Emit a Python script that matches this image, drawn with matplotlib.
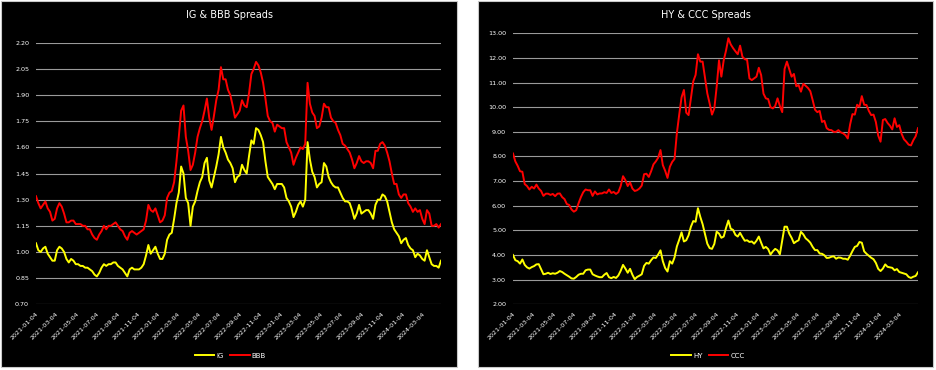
import numpy as np
import pandas as pd
import matplotlib
matplotlib.use("Agg")
import matplotlib.pyplot as plt
from matplotlib.patches import Rectangle

# weekly readings, 2021-01-04 .. 2024-04-29
dates = pd.date_range("2021-01-04", periods=174, freq="7D")

ig = [1.05, 1.01, 1.00, 1.02, 1.03, 0.99, 0.97, 0.95, 0.95, 1.01,
      1.03, 1.02, 1.00, 0.96, 0.94, 0.96, 0.95, 0.93, 0.93, 0.92,
      0.92, 0.91, 0.91, 0.90, 0.89, 0.87, 0.86, 0.88, 0.91, 0.93,
      0.92, 0.93, 0.93, 0.94, 0.94, 0.92, 0.91, 0.90, 0.88, 0.86,
      0.90, 0.91, 0.90, 0.90, 0.90, 0.91, 0.93, 0.98, 1.04, 0.99,
      1.01, 1.03, 0.99, 0.96, 0.96, 0.99, 1.07, 1.10, 1.11, 1.19,
      1.28, 1.34, 1.49, 1.45, 1.31, 1.28, 1.15, 1.26, 1.29, 1.35,
      1.40, 1.43, 1.51, 1.54, 1.41, 1.37, 1.43, 1.49, 1.56, 1.66,
      1.60, 1.57, 1.53, 1.51, 1.48, 1.40, 1.43, 1.44, 1.50, 1.47,
      1.45, 1.55, 1.64, 1.62, 1.71, 1.70, 1.67, 1.63, 1.52, 1.43,
      1.41, 1.39, 1.36, 1.39, 1.39, 1.39, 1.37, 1.31, 1.29, 1.26,
      1.20, 1.23, 1.27, 1.29, 1.26, 1.30, 1.63, 1.53, 1.46, 1.43,
      1.37, 1.39, 1.40, 1.51, 1.49, 1.43, 1.40, 1.38, 1.37, 1.37,
      1.34, 1.31, 1.29, 1.29, 1.28, 1.24, 1.19, 1.22, 1.27, 1.22,
      1.23, 1.24, 1.24, 1.22, 1.19, 1.27, 1.30, 1.30, 1.33, 1.32,
      1.29, 1.23, 1.17, 1.13, 1.11, 1.09, 1.05, 1.07, 1.08, 1.04,
      1.02, 1.01, 0.97, 0.99, 0.98, 0.96, 0.95, 1.01, 0.97, 0.93,
      0.92, 0.92, 0.91, 0.95]

bbb = [1.32, 1.28, 1.25, 1.27, 1.29, 1.25, 1.23, 1.18, 1.19, 1.25,
       1.28, 1.26, 1.22, 1.17, 1.17, 1.18, 1.18, 1.16, 1.16, 1.16,
       1.15, 1.15, 1.13, 1.13, 1.10, 1.08, 1.07, 1.10, 1.12, 1.15,
       1.13, 1.15, 1.15, 1.16, 1.17, 1.15, 1.13, 1.12, 1.09, 1.07,
       1.11, 1.12, 1.11, 1.10, 1.11, 1.12, 1.13, 1.18, 1.27, 1.24,
       1.23, 1.25, 1.21, 1.17, 1.18, 1.21, 1.31, 1.34, 1.35, 1.40,
       1.52, 1.66, 1.81, 1.84, 1.66, 1.58, 1.47, 1.50, 1.57, 1.66,
       1.71, 1.75, 1.81, 1.88, 1.77, 1.70, 1.78, 1.87, 1.93, 2.06,
       1.99, 1.99, 1.93, 1.90, 1.84, 1.77, 1.79, 1.81, 1.87, 1.84,
       1.83, 1.91, 2.02, 2.05, 2.09, 2.07, 2.03, 1.97, 1.88, 1.78,
       1.75, 1.74, 1.69, 1.73, 1.72, 1.71, 1.71, 1.63, 1.60, 1.57,
       1.50, 1.54, 1.57, 1.60, 1.59, 1.62, 1.97, 1.85, 1.80, 1.78,
       1.71, 1.72, 1.77, 1.85, 1.83, 1.83, 1.77, 1.75, 1.74, 1.70,
       1.67, 1.62, 1.61, 1.59, 1.57, 1.53, 1.48, 1.51, 1.55, 1.52,
       1.51, 1.52, 1.52, 1.51, 1.48, 1.58, 1.58, 1.62, 1.63, 1.61,
       1.57, 1.52, 1.45, 1.39, 1.39, 1.33, 1.31, 1.33, 1.33, 1.28,
       1.26, 1.23, 1.25, 1.23, 1.24, 1.19, 1.16, 1.24, 1.22, 1.15,
       1.15, 1.16, 1.14, 1.16]

hy = [4.00, 3.79, 3.75, 3.65, 3.82, 3.60, 3.50, 3.45, 3.51, 3.55,
      3.62, 3.63, 3.42, 3.22, 3.24, 3.28, 3.23, 3.26, 3.24, 3.28,
      3.35, 3.31, 3.24, 3.18, 3.12, 3.05, 3.04, 3.11, 3.20, 3.24,
      3.24, 3.38, 3.41, 3.41, 3.22, 3.17, 3.13, 3.10, 3.10, 3.20,
      3.27, 3.10, 3.06, 3.11, 3.07, 3.17, 3.36, 3.60, 3.45, 3.28,
      3.44, 3.20, 3.02, 3.11, 3.16, 3.22, 3.56, 3.68, 3.65, 3.79,
      3.90, 3.88, 4.02, 4.19, 3.75, 3.47, 3.33, 3.75, 3.65, 3.90,
      4.35, 4.62, 4.92, 4.55, 4.60, 4.80, 5.15, 5.38, 5.35, 5.90,
      5.55, 5.25, 4.85, 4.46, 4.28, 4.25, 4.45, 4.95, 4.87, 4.70,
      4.75, 5.10, 5.40, 5.07, 5.02, 4.82, 4.75, 4.90, 4.73, 4.58,
      4.60, 4.53, 4.55, 4.46, 4.58, 4.75, 4.50, 4.27, 4.33, 4.24,
      4.02, 4.15, 4.25, 4.19, 4.03, 4.60, 5.15, 5.15, 4.87, 4.70,
      4.48, 4.55, 4.60, 4.94, 4.84, 4.68, 4.60, 4.50, 4.33, 4.20,
      4.20, 4.06, 4.05, 3.99, 3.88, 3.89, 3.93, 3.95, 3.85, 3.90,
      3.89, 3.85, 3.85, 3.81, 3.97, 4.16, 4.33, 4.37, 4.53, 4.50,
      4.15, 4.05, 3.97, 3.89, 3.83, 3.68, 3.44, 3.35, 3.45, 3.62,
      3.52, 3.50, 3.48, 3.38, 3.43, 3.31, 3.28, 3.25, 3.22, 3.11,
      3.07, 3.12, 3.15, 3.30]

ccc = [8.12, 7.80, 7.62, 7.40, 7.38, 6.88, 6.80, 6.66, 6.77, 6.70,
       6.86, 6.70, 6.60, 6.40, 6.49, 6.49, 6.44, 6.48, 6.39, 6.49,
       6.50, 6.35, 6.27, 6.07, 6.03, 5.85, 5.76, 5.82, 6.10, 6.35,
       6.55, 6.66, 6.63, 6.63, 6.40, 6.58, 6.46, 6.50, 6.50, 6.55,
       6.52, 6.66, 6.52, 6.56, 6.48, 6.55, 6.80, 7.20, 7.04, 6.80,
       6.95, 6.70, 6.60, 6.63, 6.70, 6.82, 7.28, 7.30, 7.17, 7.40,
       7.68, 7.80, 7.95, 8.26, 7.65, 7.42, 7.13, 7.58, 7.78, 7.90,
       8.95, 9.70, 10.40, 10.70, 9.78, 9.68, 10.35, 11.05, 11.31, 12.15,
       11.85, 11.85, 11.20, 10.56, 10.15, 9.70, 9.95, 10.83, 11.90, 11.24,
       11.90, 12.30, 12.80, 12.55, 12.40, 12.27, 12.15, 12.50, 12.05, 11.95,
       11.92, 11.17, 11.10, 11.17, 11.24, 11.60, 11.30, 10.55, 10.36, 10.33,
       10.00, 9.95, 10.05, 10.36, 10.05, 9.80, 11.55, 11.85, 11.55, 11.24,
       11.35, 10.85, 10.90, 10.63, 10.95, 10.87, 10.78, 10.65, 10.29, 9.90,
       9.80, 9.85, 9.40, 9.45, 9.15, 9.08, 9.07, 9.00, 9.00, 9.07,
       8.98, 8.94, 8.87, 8.73, 9.30, 9.72, 9.70, 10.10, 10.02, 10.45,
       10.10, 10.09, 9.85, 9.68, 9.70, 9.40, 8.85, 8.60, 9.48, 9.52,
       9.36, 9.25, 9.10, 9.55, 9.20, 9.27, 8.92, 8.70, 8.60, 8.48,
       8.45, 8.66, 8.82, 9.15]

tick_dates = pd.date_range("2021-01-04", "2024-03-04", freq=pd.DateOffset(months=2))
tick_labels = [d.strftime("%Y-%m-%d") for d in tick_dates]

W, H = 936, 370
fig = plt.figure(figsize=(W / 100, H / 100), dpi=100, facecolor="white")


def px(x0, y0, x1, y1):
    # pixel box (top-left origin) -> figure fraction rect
    return [x0 / W, 1 - y1 / H, (x1 - x0) / W, (y1 - y0) / H]


for x0, x1 in [(1, 457), (478, 933)]:
    r = px(x0, 1, x1, 367)
    fig.add_artist(Rectangle((r[0], r[1]), r[2], r[3], transform=fig.transFigure,
                             facecolor="black", edgecolor="#c8c8c8", lw=0.8, zorder=0))


def panel(rect, s1, s2, n1, n2, yticks, title, title_x, leg_x):
    ax = fig.add_axes(rect)
    ax.set_facecolor("black")
    ax.plot(dates, s1, color="#FFFF00", lw=1.4, label=n1)
    ax.plot(dates, s2, color="#FF0000", lw=1.4, label=n2)
    ax.set_xlim(dates[0], dates[-1])
    ax.set_ylim(yticks[0], yticks[-1])
    ax.set_yticks(yticks)
    ax.set_yticklabels([f"{v:.2f}" for v in yticks])
    ax.set_xticks(tick_dates)
    ax.set_xticklabels(tick_labels, rotation=45, ha="right", rotation_mode="anchor")
    ax.tick_params(colors="white", labelsize=4.6, length=0)
    ax.tick_params(axis="y", pad=5)
    ax.tick_params(axis="x", pad=5)
    ax.grid(axis="y", color="#9a9a9a", lw=0.8)
    ax.set_axisbelow(True)
    for s in ax.spines.values():
        s.set_visible(False)
    fig.text(title_x / W, 1 - 15.5 / H, title, color="white", fontsize=7,
             ha="center", va="center")
    fig.legend(handles=ax.get_lines(), loc="center", bbox_to_anchor=(leg_x / W, 1 - 355.5 / H),
               ncol=2, frameon=False, fontsize=5, labelcolor="white",
               handlelength=2.8, handletextpad=0.3, columnspacing=0.9)
    return ax


panel(px(36, 42.7, 441, 304.3), ig, bbb, "IG", "BBB",
      np.round(np.arange(0.70, 2.21, 0.15), 2), "IG & BBB Spreads", 229, 230.5)
panel(px(513, 33.3, 918, 304.3), hy, ccc, "HY", "CCC",
      np.arange(2.0, 13.01, 1.0), "HY & CCC Spreads", 706, 708)

fig.savefig("out.png", dpi=100, facecolor="white")
